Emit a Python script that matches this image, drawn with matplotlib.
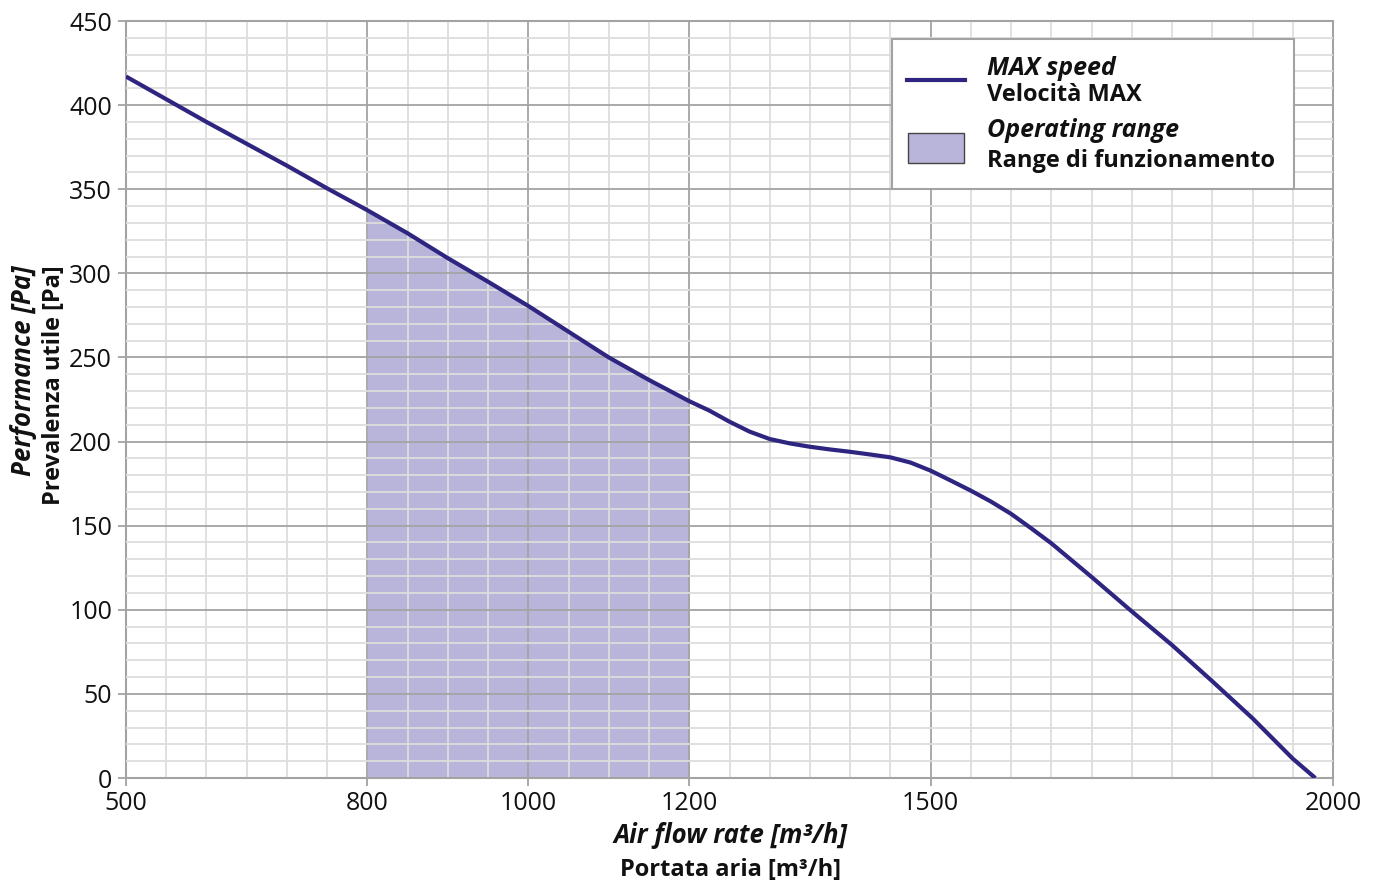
import matplotlib
matplotlib.use('Agg')
import matplotlib.pyplot as plt
from matplotlib.ticker import MultipleLocator, FixedLocator
from matplotlib.patches import Rectangle
from matplotlib.lines import Line2D

# -------------------- Data --------------------
flow = [500, 600, 700, 750, 800, 850, 900, 950, 1000, 1050, 1100, 1150, 1200,
        1225, 1250, 1275, 1300, 1325, 1350, 1375, 1400, 1425, 1450, 1475,
        1500, 1525, 1550, 1575, 1600, 1625, 1650, 1700, 1750, 1800, 1850,
        1875, 1900, 1925, 1950, 1978]
pressure = [417, 390, 364, 350.5, 337.5, 323.8, 309, 295, 280.6, 265.3, 250,
            236.6, 224, 218.4, 211.8, 205.9, 201.5, 198.9, 196.9, 195.3,
            193.9, 192.3, 190.6, 187.5, 182.7, 176.8, 170.8, 164.3, 157,
            148.4, 139.5, 119.5, 99, 79, 57.5, 46.5, 35.5, 23.5, 11.5, 0]
range_lo, range_hi = 800, 1200
x_ticks = [500, 800, 1000, 1200, 1500, 2000]
y_ticks = [0, 50, 100, 150, 200, 250, 300, 350, 400, 450]

# -------------------- Style --------------------
plt.rcParams['font.family'] = ['Open Sans', 'DejaVu Sans']
LINE_C = '#2e2580'
FILL_C = '#b9b4da'
MAJ_C = '#a3a3a3'
MIN_C = '#dddddd'
TXT_C = '#111111'

W, H = 1379, 886
fig = plt.figure(figsize=(W / 100, H / 100), dpi=100)
ax = fig.add_axes([126 / W, 1 - 778 / H, (1333 - 126) / W, (778 - 21) / H])

def px(x, y):
    # figure pixel -> figure fraction (for legend / label placement)
    return x / W, 1 - y / H

# operating range fill
mask = [range_lo <= f <= range_hi for f in flow]
ax.fill_between(flow, pressure, 0, where=mask, color=FILL_C, lw=0, zorder=1)

# curve
ax.plot(flow, pressure, color=LINE_C, lw=3, solid_capstyle='butt',
        solid_joinstyle='round', zorder=3)

ax.set_xlim(500, 2000)
ax.set_ylim(0, 450)
ax.xaxis.set_major_locator(FixedLocator(x_ticks))
ax.xaxis.set_minor_locator(MultipleLocator(50))
ax.yaxis.set_major_locator(FixedLocator(y_ticks))
ax.yaxis.set_minor_locator(MultipleLocator(10))

ax.set_axisbelow(False)
ax.grid(which='minor', color=MIN_C, lw=1.3, zorder=2)
ax.grid(which='major', color=MAJ_C, lw=1.3, zorder=2)

for s in ax.spines.values():
    s.set_color(MAJ_C)
    s.set_linewidth(1.5)

ax.tick_params(which='major', length=6, width=1.3, color=MAJ_C,
               labelsize=18, labelcolor=TXT_C)
ax.tick_params(axis='y', which='major', pad=4)
ax.tick_params(axis='x', which='major', pad=3)
ax.tick_params(which='minor', length=0)

# -------------------- Axis labels (two styles per label) --------------------
LBL = 17
ITL = 18.5
fig.text(*px(731, 843), 'Air flow rate [m³/h]', ha='center', va='baseline',
         fontsize=ITL, fontweight='bold', fontstyle='italic', color=TXT_C)
fig.text(*px(730, 876), 'Portata aria [m³/h]', ha='center', va='baseline',
         fontsize=LBL, fontweight='bold', color=TXT_C)
fig.text(*px(31, 265), 'Performance [Pa]', rotation=90, rotation_mode='anchor',
         ha='right', va='baseline', fontsize=ITL, fontweight='bold',
         fontstyle='italic', color=TXT_C)
fig.text(*px(60, 265), 'Prevalenza utile [Pa]', rotation=90, rotation_mode='anchor',
         ha='right', va='baseline', fontsize=LBL, fontweight='bold', color=TXT_C)

# -------------------- Legend (drawn by hand for mixed styles) --------------------
x0, y0 = px(892, 189)
x1, y1 = px(1294, 39)
fig.add_artist(Rectangle((x0, y0), x1 - x0, y1 - y0, transform=fig.transFigure,
                         facecolor='white', edgecolor=MAJ_C, lw=1.5, zorder=5))
lx0, ly = px(907, 80)
lx1, _ = px(965, 80)
fig.add_artist(Line2D([lx0, lx1], [ly, ly], transform=fig.transFigure,
                      color=LINE_C, lw=3, zorder=6))
px0, py0 = px(908, 163)
px1, py1 = px(964, 133)
fig.add_artist(Rectangle((px0, py0), px1 - px0, py1 - py0, transform=fig.transFigure,
                         facecolor=FILL_C, edgecolor='#444444', lw=1, zorder=6))
legend_rows = [('MAX speed', 'italic', 18, 75), ('Velocità MAX', 'normal', LBL, 101),
               ('Operating range', 'italic', 18, 137),
               ('Range di funzionamento', 'normal', LBL, 167)]
for txt, style, size, yb in legend_rows:
    fig.text(*px(987, yb), txt, ha='left', va='baseline', fontsize=size,
             fontweight='bold', fontstyle=style, color=TXT_C, zorder=7)

fig.savefig('out.png', dpi=100)
plt.close(fig)
